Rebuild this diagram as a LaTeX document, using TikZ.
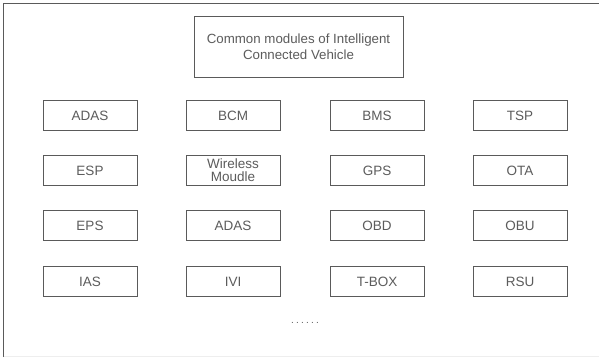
\documentclass[tikz,border=0pt]{standalone}
\usepackage{fontspec}
\setmainfont{Liberation Sans}
\definecolor{edge}{HTML}{5A5A5A}
\definecolor{txt}{HTML}{5C5C5C}
\definecolor{faint}{HTML}{EEEEEE}
\begin{document}
\begin{tikzpicture}[x=1pt,y=1pt,
  module/.style={draw=edge,line width=0.9pt,minimum width=94pt,minimum height=30pt,inner sep=0pt,
    text=txt,font=\fontsize{13.5}{14}\selectfont,align=center},
  titlebox/.style={draw=edge,line width=0.9pt,minimum width=209pt,minimum height=61pt,inner sep=0pt,
    text=txt,font=\fontsize{13.3}{15.5}\selectfont,align=center}]
\useasboundingbox (0,0) rectangle (599,357);
\fill[white] (0,0) rectangle (599,357);
\draw[edge,line width=1.3pt] (3.5,0) -- (3.5,353.5) -- (599,353.5);
\draw[faint,line width=1pt] (3.5,1) -- (599,1);
\node[titlebox] (title) at (298.5,310.5) {Common modules of Intelligent\\Connected Vehicle};
% row 1
\node[module] (adas1) at (90,241.5) {ADAS};
\node[module] (bcm) at (233,241.5) {BCM};
\node[module] (bms) at (377,241.5) {BMS};
\node[module] (tsp) at (520,241.5) {TSP};
% row 2
\node[module,font=\fontsize{13.5}{12.8}\selectfont] (esp) at (90,186.5) {ESP};
\node[module,font=\fontsize{13.5}{12.8}\selectfont] (wm) at (233,186.5) {Wireless\\Moudle};
\node[module] (gps) at (377,186.5) {GPS};
\node[module] (ota) at (520,186.5) {OTA};
% row 3
\node[module] (eps) at (90,131.5) {EPS};
\node[module] (adas2) at (233,131.5) {ADAS};
\node[module] (obd) at (377,131.5) {OBD};
\node[module] (obu) at (520,131.5) {OBU};
% row 4
\node[module] (ias) at (90,75.5) {IAS};
\node[module] (ivi) at (233,75.5) {IVI};
\node[module] (tbox) at (377,75.5) {T-BOX};
\node[module] (rsu) at (520,75.5) {RSU};
\node[text=txt,font=\fontsize{10}{10}\selectfont] (dots) at (305,34) {.\kern2.2pt.\kern2.2pt.\kern2.2pt.\kern2.2pt.\kern2.2pt.};
\end{tikzpicture}
\end{document}
